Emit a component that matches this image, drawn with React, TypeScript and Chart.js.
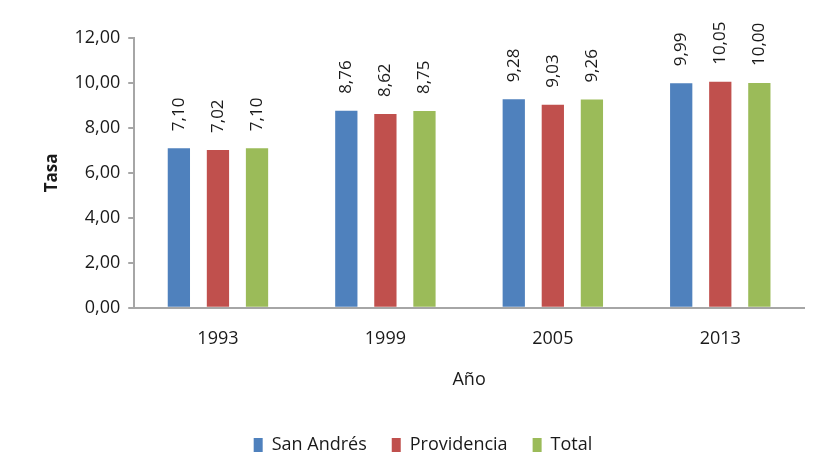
import React, { useEffect, useRef } from "react";
import { Chart, registerables } from "chart.js";

Chart.register(...registerables);

const years = ["1993", "1999", "2005", "2013"];
const sanAndres = [7.10, 8.76, 9.28, 9.99];
const providencia = [7.02, 8.62, 9.03, 10.05];
const total = [7.10, 8.75, 9.26, 10.00];
const seriesNames = ["San Andrés", "Providencia", "Total"];
const yTicks = [0, 2, 4, 6, 8, 10, 12];

const FONT = "'Open Sans', 'Liberation Sans', sans-serif";
const fmt = (v: number) => v.toFixed(2).replace(".", ",");

const rotatedLabels = {
  id: "rotatedLabels",
  afterDatasetsDraw(chart: any) {
    const ctx = chart.ctx;
    ctx.save();
    ctx.font = `17px ${FONT}`;
    ctx.fillStyle = "#1a1a1a";
    ctx.textAlign = "left";
    ctx.textBaseline = "middle";
    chart.data.datasets.forEach((ds: any, i: number) => {
      const meta = chart.getDatasetMeta(i);
      meta.data.forEach((bar: any, j: number) => {
        const v = ds.data[j];
        ctx.save();
        ctx.translate(bar.x, bar.y - 17);
        ctx.rotate(-Math.PI / 2);
        ctx.fillText(fmt(v), 0, 0);
        ctx.restore();
      });
    });
    ctx.restore();
  },
};

export default function App() {
  const ref = useRef<HTMLCanvasElement>(null);
  useEffect(() => {
    if (!ref.current) return;
    const chart = new Chart(ref.current, {
      type: "bar",
      data: {
        labels: years,
        datasets: [
          { label: seriesNames[0], data: sanAndres, backgroundColor: "#4F81BD" },
          { label: seriesNames[1], data: providencia, backgroundColor: "#C0504D" },
          { label: seriesNames[2], data: total, backgroundColor: "#9BBB59" },
        ],
      },
      options: {
        animation: false,
        responsive: false,
        maintainAspectRatio: false,
        datasets: { bar: { categoryPercentage: 0.7, barPercentage: 0.57 } },
        layout: { padding: { top: 30, left: 34, right: 2, bottom: 2 } },
        plugins: {
          tooltip: { enabled: false },
          legend: {
            position: "bottom",
            labels: {
              boxWidth: 9,
              boxHeight: 14,
              padding: 25,
              color: "#1a1a1a",
              font: { family: FONT, size: 18 },
            },
          },
        },
        scales: {
          x: {
            grid: { display: false, drawTicks: false },
            border: { color: "#A6A6A6", width: 2 },
            ticks: { color: "#1a1a1a", font: { family: FONT, size: 18 }, padding: 20 },
            title: {
              display: true,
              text: "Año",
              color: "#1a1a1a",
              font: { family: FONT, size: 18 },
              padding: { top: 0, bottom: 20 },
            },
          },
          y: {
            min: 0,
            max: 12,
            afterBuildTicks: (scale: any) => {
              scale.ticks = yTicks.map((v) => ({ value: v }));
            },
            grid: { drawOnChartArea: false, drawTicks: true, tickLength: 6, color: "#A6A6A6", lineWidth: 2 },
            border: { color: "#A6A6A6", width: 2 },
            ticks: {
              color: "#1a1a1a",
              font: { family: FONT, size: 18 },
              padding: 8,
              callback: (v: any) => fmt(Number(v)),
            },
            title: {
              display: true,
              text: "Tasa",
              color: "#1a1a1a",
              font: { family: FONT, size: 17, weight: "bold" },
              padding: { top: 0, bottom: 4 },
            },
          },
        },
      },
      plugins: [rotatedLabels],
    });
    return () => chart.destroy();
  }, []);
  return (
    <div style={{ width: 798, height: 458 }}>
      <canvas ref={ref} width={798} height={458} style={{ width: 798, height: 458 }} />
    </div>
  );
}
